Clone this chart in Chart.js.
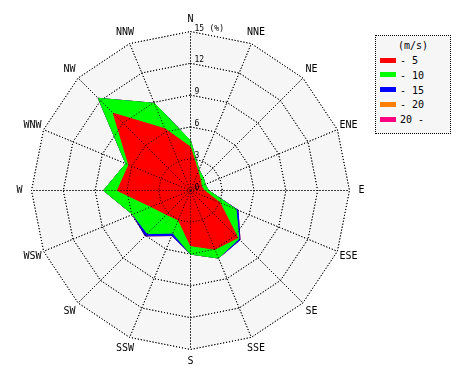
<!DOCTYPE html>
<html>
<head>
<meta charset="utf-8">
<script src="https://cdn.jsdelivr.net/npm/chart.js@4.4.1/dist/chart.umd.min.js"></script>
<style>
  html,body{margin:0;padding:0;background:#fff;}
  #wrap{position:relative;width:470px;height:380px;}
  #c{display:block;}
  #legend{position:absolute;left:375px;top:35px;width:74px;height:97px;border:1px dotted #000;background:#f6f6f6;
    font-family:"DejaVu Sans Mono",monospace;font-size:10px;color:#000;}
  #legend .t{position:absolute;left:0;width:74px;top:4px;text-align:center;}
  #legend .row{position:absolute;left:4px;height:12px;line-height:12px;}
  #legend .sw{display:inline-block;width:16px;height:5px;vertical-align:middle;margin-right:4px;position:relative;top:-1px;}
</style>
</head>
<body>
<div id="wrap">
<canvas id="c" width="470" height="380"></canvas>
<div id="legend"></div>
</div>
<script>
// Directions (clockwise from north)
const directions = ["N","NNE","NE","ENE","E","ESE","SE","SSE","S","SSW","SW","WSW","W","WNW","NW","NNW"];
// Cumulative frequency (%) up to each speed class
const upTo5  = [4.1, 1.9, 1.35, 1.1, 1.3, 3.0, 6.3, 6.0, 5.2, 3.0, 3.2, 4.0, 6.9, 6.3, 10.3, 6.3];
const upTo10 = [4.7, 2.1, 1.7, 1.5, 1.7, 4.65, 6.45, 6.9, 6.0, 4.35, 5.75, 5.9, 8.2, 6.6, 12.3, 8.9];
const upTo15 = [4.7, 2.1, 1.7, 1.5, 1.7, 4.85, 6.6, 6.9, 6.0, 4.6, 6.05, 5.9, 8.2, 6.6, 12.3, 8.9];
const upTo20 = [4.7, 2.1, 1.7, 1.5, 1.7, 4.85, 6.6, 6.9, 6.0, 4.6, 6.05, 5.9, 8.2, 6.6, 12.3, 8.9];
const all    = [4.7, 2.1, 1.7, 1.5, 1.7, 4.85, 6.6, 6.9, 6.0, 4.6, 6.05, 5.9, 8.2, 6.6, 12.3, 8.9];
const speedLabels = ["- 5","- 10","- 15","- 20","20 -"];
const speedColors = ["#ff0000","#00ff00","#0000ff","#ff8000","#ff0080"];
const tickValues = [0,3,6,9,12,15];
const unitLabel = "(%)";
const legendTitle = "(m/s)";

const series = [upTo5, upTo10, upTo15, upTo20, all];
const datasets = series.map((d,i)=>({
  label: speedLabels[i],
  data: d,
  backgroundColor: speedColors[i],
  borderColor: speedColors[i],
  borderWidth: 1,
  pointRadius: 0,
  fill: 'origin',
  tension: 0
}));

const overlay = {
  id:'overlay',
  beforeDraw(chart){ chart.ctx.save(); chart.ctx.translate(0.5,0.5); },
  afterDraw(chart){ chart.ctx.restore(); },
  afterDatasetsDraw(chart){
    const r = chart.scales.r, ctx = chart.ctx;
    ctx.save(); r.drawGrid(); ctx.restore();
    ctx.save();
    ctx.fillStyle = '#000';
    ctx.font = '8px "DejaVu Sans Mono"';
    ctx.textAlign = 'left';
    ctx.textBaseline = 'alphabetic';
    r.ticks.forEach(t=>{
      const d = r.getDistanceFromCenterForValue(t.value);
      ctx.fillText(String(t.value), r.xCenter + 4, r.yCenter - d - 1);
    });
    const dMax = r.getDistanceFromCenterForValue(r.max);
    ctx.fillText(unitLabel, r.xCenter + 19, r.yCenter - dMax - 1);
    ctx.font = '10px "DejaVu Sans Mono"';
    ctx.textAlign = 'center';
    ctx.textBaseline = 'middle';
    directions.forEach((lab,i)=>{
      const p = r.getPointPosition(i, r.drawingArea + 12);
      ctx.fillText(lab, p.x, p.y);
    });
    ctx.restore();
  }
};

const chart = new Chart(document.getElementById('c'), {
  type:'radar',
  data:{ labels: directions, datasets },
  options:{
    responsive:false,
    animation:false,
    devicePixelRatio:1,
    events:[],
    layout:{ padding:{ left:31, right:121, top:31, bottom:31 } },
    plugins:{ legend:{display:false}, tooltip:{enabled:false} },
    elements:{ line:{ tension:0 } },
    scales:{
      r:{
        min:0, max:15,
        startAngle:0,
        backgroundColor:'#f6f6f6',
        ticks:{ display:false, stepSize:3 },
        afterBuildTicks(scale){ scale.ticks = tickValues.map(v=>({value:v})); },
        pointLabels:{ display:false },
        grid:{ circular:false, color:'#000', lineWidth:1 },
        border:{ dash:[1,2] },
        angleLines:{ color:'#000', lineWidth:1, borderDash:[1,2] }
      }
    }
  },
  plugins:[overlay]
});

// Legend built from the chart datasets
const lg = document.getElementById('legend');
const title = document.createElement('div');
title.className = 't'; title.textContent = legendTitle; lg.appendChild(title);
chart.data.datasets.forEach((ds,i)=>{
  const row = document.createElement('div');
  row.className = 'row';
  row.style.top = (19 + i*14.75) + 'px';
  const sw = document.createElement('span');
  sw.className = 'sw'; sw.style.background = ds.backgroundColor;
  row.appendChild(sw);
  row.appendChild(document.createTextNode(ds.label));
  lg.appendChild(row);
});
</script>
</body>
</html>
